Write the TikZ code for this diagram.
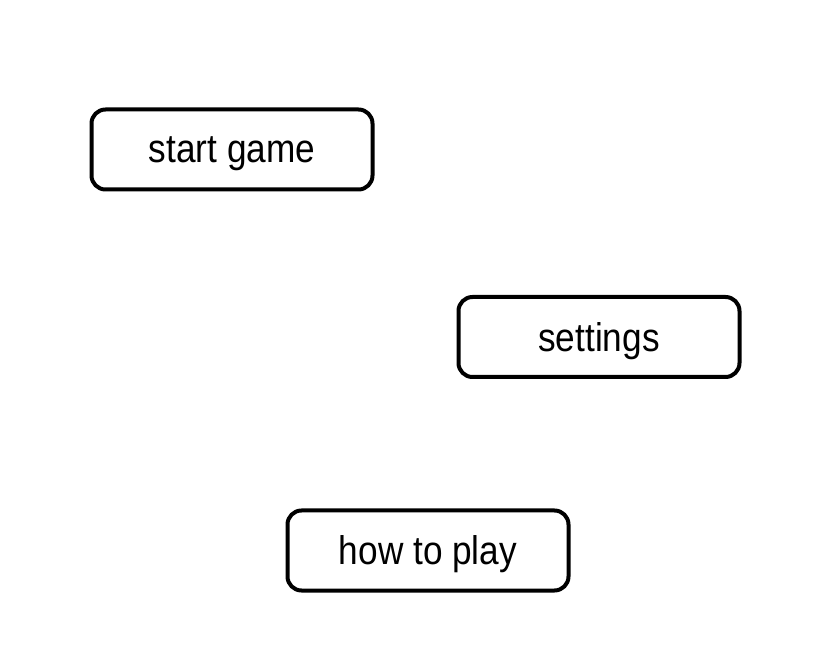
\documentclass[tikz,border=0pt]{standalone}
\usepackage{fontspec}
\setmainfont{Liberation Sans}
\begin{document}
\begin{tikzpicture}[x=1pt,y=-1pt,
		button/.style={draw, line width=4pt, rounded corners=14pt,
			minimum width=281pt, minimum height=80pt, inner sep=0pt},
		label/.style={font=\fontsize{40}{48}\selectfont, xscale=0.88, yshift=-4pt}]
				\useasboundingbox (0,0) rectangle (831,668);
				
				\node[button] (start) at (232,149.5) {};
				\node[button] (settings) at (599,337) {};
				\node[button] (howto) at (428,550.5) {};
				
				\node[label] at (start) {start game};
				\node[label] at (settings) {settings};
				\node[label] at (howto) {how to play};
			\end{tikzpicture}
\end{document}
